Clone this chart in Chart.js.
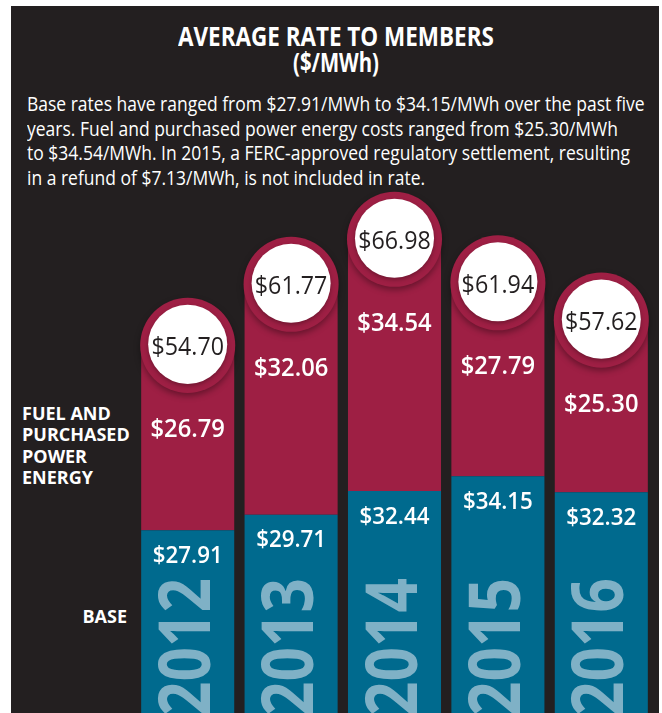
<!DOCTYPE html>
<html>
<head>
<meta charset="utf-8">
<script src="https://cdn.jsdelivr.net/npm/chart.js@4/dist/chart.umd.min.js"></script>
<style>
  body { margin: 0; background: #fff; font-family: "Open Sans", sans-serif; }
  #panel { position: absolute; left: 11px; top: 6px; width: 648px; height: 707px; background: #231f20; overflow: hidden; color: #fff; }
  .fit { position: absolute; white-space: nowrap; transform-origin: 0 0; }
  #desc { left: 16px; top: 86px; font-size: 19.5px; line-height: 24.5px; }
  .side { position: absolute; font-weight: 700; font-size: 18px; line-height: 21.3px; }
  #chart { position: absolute; left: 0; top: 184px; }
</style>
</head>
<body>
<div id="panel">
  <div id="title1" class="fit" style="font-weight:700;font-size:27px;top:11px">AVERAGE RATE TO MEMBERS</div>
  <div id="title2" class="fit" style="font-weight:700;font-size:26px;top:38px">($/MWh)</div>
  <div id="desc" class="fit">
    <div>Base rates have ranged from $27.91/MWh to $34.15/MWh over the past five</div>
    <div>years. Fuel and purchased power energy costs ranged from $25.30/MWh</div>
    <div>to $34.54/MWh. In 2015, a FERC-approved regulatory settlement, resulting</div>
    <div>in a refund of $7.13/MWh, is not included in rate.</div>
  </div>
  <div class="side" style="left:11px;top:397px">FUEL AND<br>PURCHASED<br>POWER<br>ENERGY</div>
  <div class="side" style="left:11px;top:600px;width:105px;text-align:right">BASE</div>
  <canvas id="chart" width="648" height="523"></canvas>
</div>
<script>
const years = ["2012", "2013", "2014", "2015", "2016"];
const baseRates = [27.91, 29.71, 32.44, 34.15, 32.32];
const fuelRates = [26.79, 32.06, 34.54, 27.79, 25.30];
const totalRates = [54.70, 61.77, 66.98, 61.94, 57.62];

const BG = "#231f20";
const CRIMSON = "#9e1f44";
const TEAL = "#006a8e";
const YEAR_COLOR = "#7fb1c6";

// squeeze html text lines to the widths seen in the reference
function fitWidth(id, target, centerX) {
	const el = document.getElementById(id);
	const s = target / el.offsetWidth;
	el.style.transform = "scaleX(" + s + ")";
	if (centerX != null) el.style.left = (centerX - target / 2) + "px";
}
fitWidth("title1", 316, 325);
fitWidth("title2", 86, 325);
fitWidth("desc", 618 * document.getElementById("desc").offsetWidth / document.querySelector("#desc div").scrollWidth);

function money(v) {
	return "$" + v.toFixed(2);
}

function squeezedText(ctx, text, x, y, font, color, sx) {
	ctx.save();
	ctx.font = font;
	ctx.fillStyle = color;
	ctx.textAlign = "center";
	ctx.textBaseline = "alphabetic";
	ctx.translate(x, y);
	ctx.scale(sx, 1);
	ctx.fillText(text, 0, 0);
	ctx.restore();
}

const labelPlugin = {
	id: "barLabels",
	afterDatasetsDraw(chart) {
		const ctx = chart.ctx;
		const area = chart.chartArea;
		const baseBars = chart.getDatasetMeta(0).data;
		const fuelBars = chart.getDatasetMeta(1).data;

		baseBars.forEach((bar, i) => {
			// year written upward at the foot of the bar
			ctx.save();
			ctx.beginPath();
			ctx.rect(bar.x - bar.width / 2, area.top, bar.width, area.bottom - area.top);
			ctx.clip();
			ctx.translate(bar.x + 22, area.bottom + 3);
			ctx.rotate(-Math.PI / 2);
			ctx.scale(0.85, 1);
			ctx.font = "700 71px 'Open Sans'";
			ctx.fillStyle = YEAR_COLOR;
			ctx.textAlign = "left";
			ctx.fillText(years[i], 0, 0);
			ctx.restore();

			squeezedText(ctx, money(baseRates[i]), bar.x, bar.y + 24 + 8.5, "600 24px 'Open Sans'", "#fff", 0.93);
		});

		fuelBars.forEach((bar, i) => {
			const r = bar.width / 2;
			const cx = bar.x;
			const cy = bar.y + r;

			squeezedText(ctx, money(fuelRates[i]), cx, cy + r + 36 + 9, "600 25px 'Open Sans'", "#fff", 0.95);

			ctx.save();
			ctx.shadowColor = "rgba(0,0,0,0.35)";
			ctx.shadowBlur = 6;
			ctx.shadowOffsetY = 3;
			ctx.fillStyle = CRIMSON;
			ctx.beginPath();
			ctx.arc(cx, cy, r + 1, 0, Math.PI * 2);
			ctx.fill();
			ctx.restore();

			ctx.save();
			ctx.shadowColor = "rgba(0,0,0,0.3)";
			ctx.shadowBlur = 4;
			ctx.shadowOffsetY = 2;
			ctx.fillStyle = "#fff";
			ctx.beginPath();
			ctx.arc(cx, cy - 1, r - 7, 0, Math.PI * 2);
			ctx.fill();
			ctx.restore();

			squeezedText(ctx, money(totalRates[i]), cx, cy + 10, "500 25px 'Open Sans'", BG, 0.93);
		});
	},
};

new Chart(document.getElementById("chart"), {
	type: "bar",
	data: {
		labels: years,
		datasets: [
			{
				label: "Base",
				data: baseRates,
				backgroundColor: TEAL,
				borderWidth: 0,
			},
			{
				label: "Fuel and purchased power energy",
				data: fuelRates,
				backgroundColor: CRIMSON,
				borderWidth: 0,
				borderRadius: { topLeft: 100, topRight: 100, bottomLeft: 0, bottomRight: 0 },
				borderSkipped: false,
			},
		],
	},
	options: {
		responsive: false,
		animation: false,
		layout: { padding: { left: 125, right: 6, top: 0, bottom: 0 } },
		datasets: { bar: { categoryPercentage: 1, barPercentage: 0.9 } },
		scales: {
			x: { stacked: true, display: false },
			y: { stacked: true, display: false, min: 6.75, max: 67.3 },
		},
		plugins: {
			legend: { display: false },
			tooltip: { enabled: false },
		},
	},
	plugins: [labelPlugin],
});
</script>
</body>
</html>
